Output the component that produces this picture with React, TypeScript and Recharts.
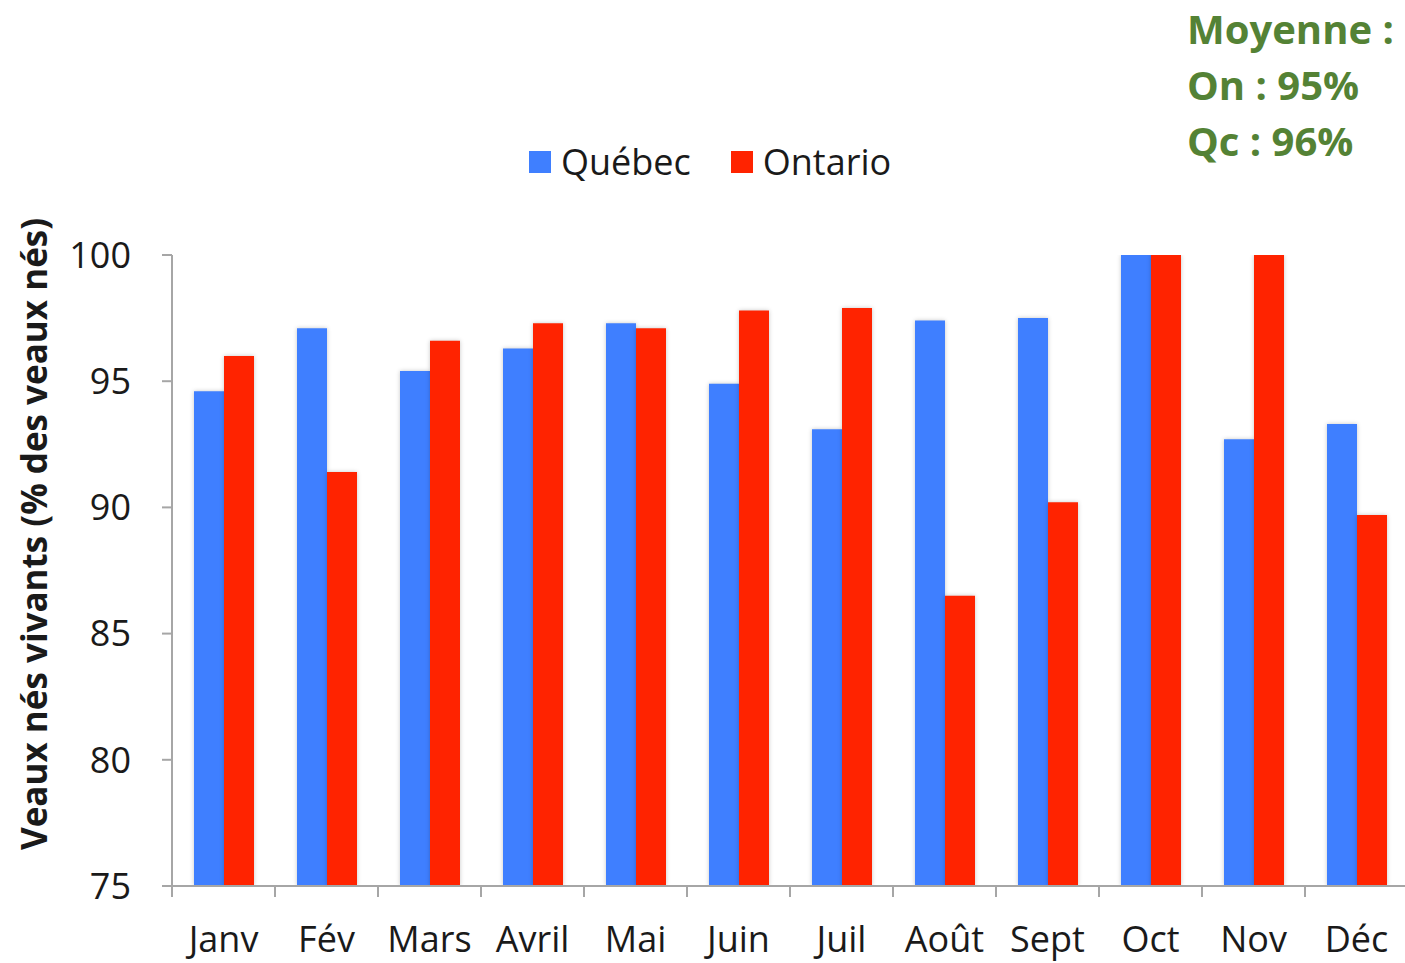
import { BarChart, Bar, XAxis, YAxis, Label } from 'recharts'

const months = ['Janv', 'Fév', 'Mars', 'Avril', 'Mai', 'Juin', 'Juil', 'Août', 'Sept', 'Oct', 'Nov', 'Déc']
const quebec = [94.6, 97.1, 95.4, 96.3, 97.3, 94.9, 93.1, 97.4, 97.5, 100, 92.7, 93.3]
const ontario = [96.0, 91.4, 96.6, 97.3, 97.1, 97.8, 97.9, 86.5, 90.2, 100, 100, 89.7]
const yTicks = [75, 80, 85, 90, 95, 100]
const averages = ['Moyenne :', 'On : 95%', 'Qc : 96%']

const W = 1410
const H = 963
const LEFT = 172
const RIGHT = 2
const band = (W - LEFT - RIGHT) / months.length
const axisColor = '#a6a6a6'
const font = '"Open Sans", sans-serif'
const barShadow = { filter: 'drop-shadow(0px 0px 2px rgba(0,0,0,0.22))' }

const data = months.map((m, i) => ({ mois: m, quebec: quebec[i], ontario: ontario[i] }))

function MonthTick(props: any) {
  const { x, y, payload, index } = props
  const left = x - band / 2
  return (
    <g>
      <line x1={left} y1={y} x2={left} y2={y + 11} stroke={axisColor} strokeWidth={2} />
      {index === months.length - 1 && (
        <line x1={left + band} y1={y} x2={left + band} y2={y + 11} stroke={axisColor} strokeWidth={2} />
      )}
      <text x={x} y={y + 66} textAnchor="middle" fontSize={36} fontFamily={font} fill="#1a1a1a">
        {payload.value}
      </text>
    </g>
  )
}

export default function App() {
  return (
    <div style={{ position: 'absolute', left: 0, top: 0, width: 1405, height: H, overflow: 'hidden', background: '#fff' }}>
      <BarChart
        width={W}
        height={H}
        data={data}
        margin={{ top: 255, right: RIGHT, bottom: 17, left: 0 }}
        barCategoryGap={22}
        barGap={0}
      >
        <XAxis
          dataKey="mois"
          height={60}
          tickLine={false}
          tickSize={0}
          tickMargin={0}
          tick={<MonthTick />}
          interval={0}
          axisLine={{ stroke: axisColor, strokeWidth: 2 }}
        />
        <YAxis
          width={LEFT}
          domain={[75, 100]}
          ticks={yTicks}
          allowDataOverflow
          tickSize={10}
          tickMargin={31}
          tick={{ fontSize: 36, fontFamily: font, fill: '#1a1a1a' }}
          tickLine={{ stroke: axisColor, strokeWidth: 2 }}
          axisLine={{ stroke: axisColor, strokeWidth: 2 }}
        >
          <Label
            content={() => (
              <text
                x={33}
                y={534}
                transform="rotate(-90, 33, 534)"
                textAnchor="middle"
                dominantBaseline="central"
                fontSize={35}
                fontWeight="bold"
                fontFamily={font}
                fill="#1a1a1a"
              >
                Veaux nés vivants (% des veaux nés)
              </text>
            )}
          />
        </YAxis>
        <Bar dataKey="quebec" name="Québec" fill="#3f7fff" style={barShadow} isAnimationActive={false} />
        <Bar dataKey="ontario" name="Ontario" fill="#ff2300" style={barShadow} isAnimationActive={false} />
      </BarChart>

      <div style={{ position: 'absolute', left: 529, top: 137, display: 'flex', alignItems: 'center', fontFamily: font, fontSize: 36, color: '#1a1a1a' }}>
        <span style={{ width: 22, height: 22, background: '#3f7fff', marginRight: 10 }} />
        <span style={{ marginRight: 40 }}>Québec</span>
        <span style={{ width: 22, height: 22, background: '#ff2300', marginRight: 10 }} />
        <span>Ontario</span>
      </div>

      <div style={{ position: 'absolute', left: 1187, top: 1, fontFamily: font, fontWeight: 'bold', fontSize: 40, lineHeight: '56px', color: '#548235' }}>
        {averages.map((t) => (
          <div key={t}>{t}</div>
        ))}
      </div>
    </div>
  )
}
